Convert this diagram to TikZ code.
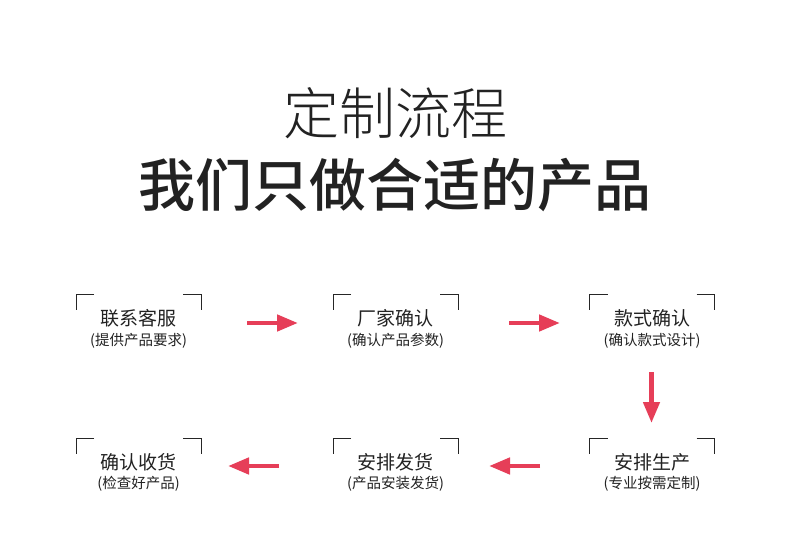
\documentclass[tikz,border=0pt]{standalone}
\usepackage{fontspec}
\setmainfont{Noto Sans CJK SC}
\newfontfamily\cjk{Noto Sans CJK SC}
\newfontfamily\cjklight{Noto Sans CJK SC Light}
\newfontfamily\cjkmed{Noto Sans CJK SC Medium}
\usetikzlibrary{arrows.meta}
\definecolor{arrowred}{RGB}{230,62,88}
\definecolor{txt}{RGB}{34,34,34}
\begin{document}
\begin{tikzpicture}[x=1pt,y=-1pt,
  stepname/.style={font=\cjk\fontsize{19}{19}\selectfont, text=txt, inner sep=0pt, anchor=center},
  stepsub/.style={font=\cjk\fontsize{14.5}{14.5}\selectfont, text=txt, inner sep=0pt, anchor=center},
  bracket/.style={draw=black!85, line width=1pt},
  flow/.style={draw=arrowred, line width=4.5pt, -{Triangle[length=21pt,width=16pt]}, shorten >=0pt}
]
\useasboundingbox[fill=white] (0,0) rectangle (790,556);
\node[font=\cjklight\fontsize{56}{56}\selectfont, text=txt, inner sep=0pt] (t1) at (395,113) {定制流程};
\node[font=\cjkmed\fontsize{57}{57}\selectfont, text=txt, inner sep=0pt] (t2) at (395,185) {我们只做合适的产品};

% brackets
\foreach \cx/\cy in {138.5/294, 395.5/294, 652/294, 138.5/438, 395.5/438, 652/438}{
  \draw[bracket] (\cx-62.5+18,\cy) -- (\cx-62.5,\cy) -- (\cx-62.5,\cy+16);
  \draw[bracket] (\cx+62.5-18,\cy) -- (\cx+62.5,\cy) -- (\cx+62.5,\cy+16);
}

\node[stepname] (a) at (138.5,318) {联系客服};
\node[stepsub]  (as) at (138.5,341) {(提供产品要求)};
\node[stepname] (b) at (395.5,318) {厂家确认};
\node[stepsub]  (bs) at (395.5,341) {(确认产品参数)};
\node[stepname] (c) at (652,318) {款式确认};
\node[stepsub]  (cs) at (652,341) {(确认款式设计)};
\node[stepname] (d) at (652,462) {安排生产};
\node[stepsub]  (ds) at (652,484) {(专业按需定制)};
\node[stepname] (e) at (395.5,462) {安排发货};
\node[stepsub]  (es) at (395.5,484) {(产品安装发货)};
\node[stepname] (f) at (138.5,462) {确认收货};
\node[stepsub]  (fs) at (138.5,484) {(检查好产品)};

\coordinate (a1s) at (247,323); \coordinate (a1e) at (298,323);
\coordinate (a2s) at (509,323); \coordinate (a2e) at (560,323);
\coordinate (a3s) at (651.5,372); \coordinate (a3e) at (651.5,423);
\coordinate (a4s) at (540,466); \coordinate (a4e) at (489,466);
\coordinate (a5s) at (279,466); \coordinate (a5e) at (228,466);
\draw[flow] (a1s) -- (a1e);
\draw[flow] (a2s) -- (a2e);
\draw[flow] (a3s) -- (a3e);
\draw[flow] (a4s) -- (a4e);
\draw[flow] (a5s) -- (a5e);
\end{tikzpicture}
\end{document}
